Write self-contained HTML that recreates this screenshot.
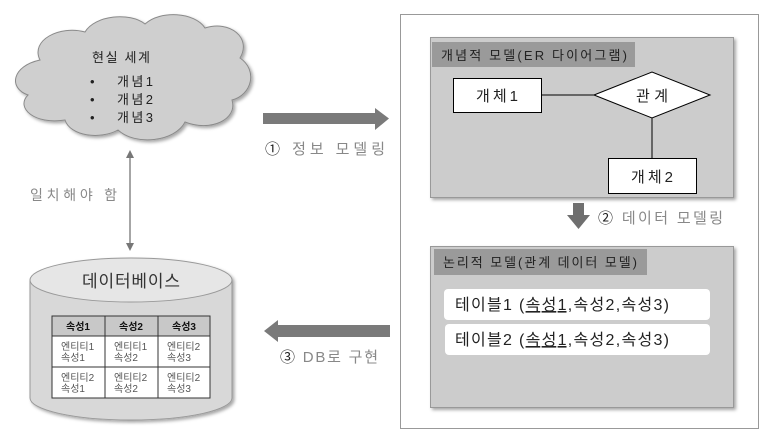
<!DOCTYPE html>
<html><head><meta charset="utf-8"><style>
body{margin:0;background:#fff;}
svg{display:block;font-family:"Liberation Sans","Noto Sans CJK KR",sans-serif;}
</style></head><body>
<svg width="767" height="439" viewBox="0 0 767 439" xmlns="http://www.w3.org/2000/svg">
<defs>
<filter id="sh" x="-10%" y="-10%" width="130%" height="130%"><feDropShadow dx="2" dy="2" stdDeviation="1.5" flood-color="#000" flood-opacity="0.35"/></filter>
</defs>
<g filter="url(#sh)">
<path d="M40,60 C30,40 60,25 85,32 C95,15 130,12 145,24 C160,10 195,12 205,28 C230,20 252,38 240,58 C258,70 252,95 232,100 C238,120 210,132 185,122 C175,142 135,146 118,130 C100,140 70,136 65,120 C35,125 15,108 28,95 C8,88 12,66 40,60 Z" fill="#cfcfcf" stroke="#8a8a8a" stroke-width="1"/>
</g>
<g font-size="13" fill="#222">
<text x="92" y="62" textLength="58" lengthAdjust="spacing">현실 세계</text>
<text x="90" y="86">•</text><text x="117" y="86" textLength="36" lengthAdjust="spacing">개념1</text>
<text x="90" y="104">•</text><text x="117" y="104" textLength="36" lengthAdjust="spacing">개념2</text>
<text x="90" y="122">•</text><text x="117" y="122" textLength="36" lengthAdjust="spacing">개념3</text>
</g>
<line x1="130" y1="155" x2="130" y2="246" stroke="#777" stroke-width="1.3"/>
<path d="M126,158 L130,150 L134,158 Z" fill="#777"/>
<path d="M126,243 L130,251 L134,243 Z" fill="#777"/>
<text x="30" y="200" font-size="14" fill="#888" textLength="87" lengthAdjust="spacing">일치해야 함</text>
<g filter="url(#sh)">
<path d="M30,280 L30,398 A101,22 0 0 0 232,398 L232,280 Z" fill="#d8d8d8" stroke="#999"/>
<ellipse cx="131" cy="280" rx="101" ry="22" fill="#e6e6e6" stroke="#999"/>
</g>
<text x="82" y="287" font-size="17" fill="#333" textLength="98" lengthAdjust="spacing">데이터베이스</text>
<g>
<rect x="52" y="316" width="158" height="82" fill="#fff" stroke="#333" stroke-width="1"/>
<rect x="52" y="316" width="158" height="20" fill="#c8c8c8" stroke="#333"/>
<line x1="105" y1="316" x2="105" y2="398" stroke="#333"/>
<line x1="158" y1="316" x2="158" y2="398" stroke="#333"/>
<line x1="52" y1="367" x2="210" y2="367" stroke="#333"/>
<g font-size="10" font-weight="bold" fill="#111" text-anchor="middle">
<text x="78" y="330">속성1</text><text x="131" y="330">속성2</text><text x="184" y="330">속성3</text>
</g>
<g font-size="10" fill="#555">
<text x="61" y="350">엔티티1</text><text x="61" y="361">속성1</text>
<text x="114" y="350">엔티티1</text><text x="114" y="361">속성2</text>
<text x="167" y="350">엔티티2</text><text x="167" y="361">속성3</text>
<text x="61" y="381">엔티티2</text><text x="61" y="392">속성1</text>
<text x="114" y="381">엔티티2</text><text x="114" y="392">속성2</text>
<text x="167" y="381">엔티티2</text><text x="167" y="392">속성3</text>
</g>
</g>
<path d="M263,113 L375,113 L375,108 L389,118.5 L375,130 L375,124 L263,124 Z" fill="#7a7a7a"/>
<text x="265" y="154" font-size="15" fill="#888" textLength="120" lengthAdjust="spacing"><tspan fill="#222">①</tspan> 정보 모델링</text>
<path d="M390,325 L278,325 L278,320 L264,331 L278,342 L278,337 L390,337 Z" fill="#7a7a7a"/>
<text x="280" y="362" font-size="15" fill="#888" textLength="98" lengthAdjust="spacing"><tspan fill="#222">③</tspan> DB로 구현</text>
<rect x="400.5" y="14.5" width="358" height="414" fill="#fff" stroke="#999"/>
<rect x="430.5" y="37.5" width="303" height="160" fill="#cccccc" stroke="#999" filter="url(#sh)"/>
<rect x="432" y="42" width="203" height="25" fill="#9a9a9a"/>
<text x="441" y="60" font-size="13" fill="#222" textLength="186" lengthAdjust="spacing">개념적  모델(ER 다이어그램)</text>
<line x1="541" y1="95" x2="594" y2="95" stroke="#000"/>
<line x1="652" y1="118" x2="652" y2="158" stroke="#000"/>
<rect x="453.5" y="78.5" width="88" height="34" fill="#fff" stroke="#000"/>
<text x="476" y="101" font-size="15" fill="#222" textLength="42" lengthAdjust="spacing">개체1</text>
<path d="M594,95 L652,72 L710,95 L652,118 Z" fill="#fff" stroke="#000"/>
<text x="636" y="101" font-size="15" fill="#222" textLength="32" lengthAdjust="spacing">관계</text>
<rect x="608.5" y="158.5" width="88" height="35" fill="#fff" stroke="#000"/>
<text x="631" y="182" font-size="15" fill="#222" textLength="42" lengthAdjust="spacing">개체2</text>
<path d="M573,203 L584,203 L584,215 L590,215 L578.5,229 L567,215 L573,215 Z" fill="#6f6f6f"/>
<text x="598" y="223" font-size="15" fill="#888" textLength="125" lengthAdjust="spacing"><tspan fill="#222">②</tspan> 데이터 모델링</text>
<rect x="430.5" y="246.5" width="303" height="161" fill="#cccccc" stroke="#999" filter="url(#sh)"/>
<rect x="434" y="249" width="213" height="26" fill="#9a9a9a"/>
<text x="443" y="267" font-size="13" fill="#222" textLength="194" lengthAdjust="spacing">논리적 모델(관계 데이터 모델)</text>
<rect x="444" y="289" width="266" height="31" rx="4" fill="#fff"/>
<rect x="445" y="324" width="265" height="31" rx="4" fill="#fff"/>
<text x="455" y="310" font-size="16" fill="#222" textLength="214" lengthAdjust="spacing">테이블1 (<tspan text-decoration="underline">속성1</tspan>,속성2,속성3)</text>
<text x="455" y="345" font-size="16" fill="#222" textLength="214" lengthAdjust="spacing">테이블2 (<tspan text-decoration="underline">속성1</tspan>,속성2,속성3)</text>
</svg>
</body></html>
